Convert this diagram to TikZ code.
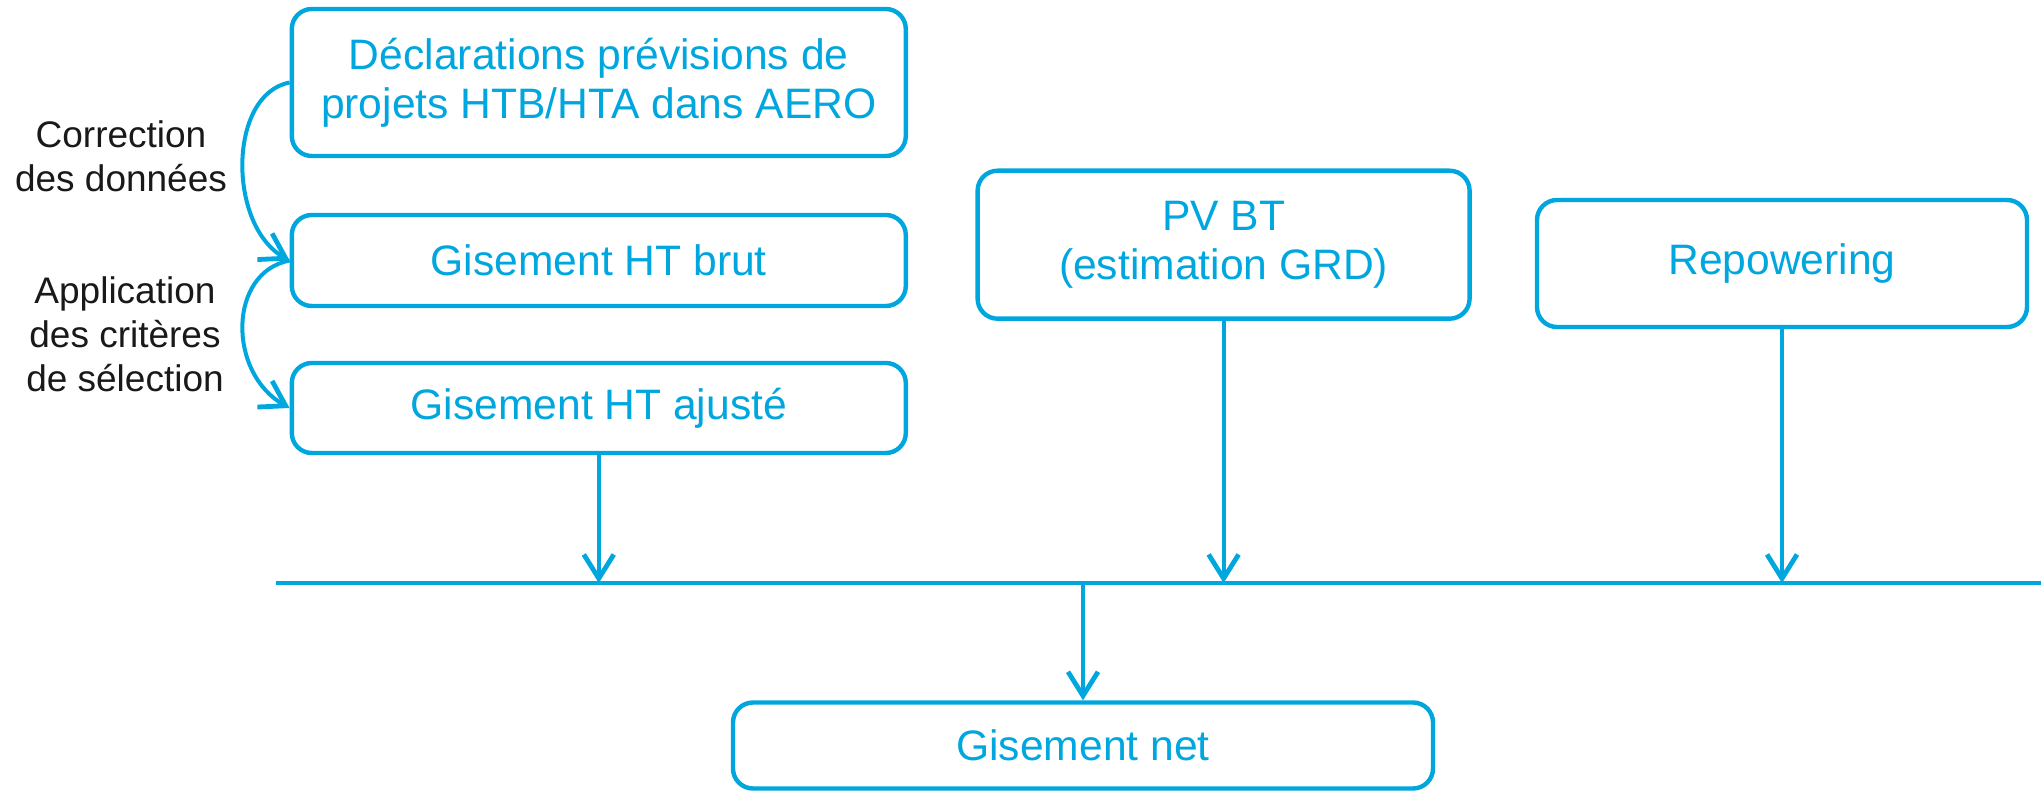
\documentclass[tikz,border=0pt]{standalone}
\usepackage{fontspec}
\setmainfont{Liberation Sans}
\usetikzlibrary{arrows.meta}
\definecolor{eblue}{RGB}{0,166,222}
\begin{document}
\begin{tikzpicture}[x=0.5pt,y=-0.5pt,
  box/.style={draw=eblue, line width=2.2pt, rounded corners=10pt, text=eblue, align=center, inner sep=0pt, font=\fontsize{21.3}{24.5}\selectfont},
  lab/.style={text=black!90, align=center, inner sep=0pt, font=\fontsize{18.5}{22}\selectfont},
  arr/.style={draw=eblue, line width=2pt, -{Straight Barb[length=12pt,width=15pt,line width=2.4pt]}},
  bus/.style={draw=eblue, line width=2.4pt},
]
\useasboundingbox (0,0) rectangle (2041,791);
\node[box, minimum width=307pt, minimum height=73.5pt] (b1) at (598.8,82.5) {Déclarations prévisions de\\projets HTB/HTA dans AERO};
\node[box, minimum width=307pt, minimum height=45.5pt] (b2) at (598.8,260.5) {Gisement HT brut};
\node[box, minimum width=307pt, minimum height=45pt] (b3) at (598.8,408) {Gisement HT ajusté};
\node[box, minimum width=246pt, minimum height=74pt] (pv) at (1223.6,244.7) {PV BT\\(estimation GRD)};
\node[box, minimum width=245pt, minimum height=63.5pt] (rp) at (1782,263.5) {Repowering};
\node[box, minimum width=350pt, minimum height=43pt] (net) at (1083,745.5) {Gisement net};
\node[lab] (l1) at (121,156) {Correction\\des données};
\node[lab] (l2) at (125,334) {Application\\des critères\\de sélection};
\coordinate (busL) at (276,583);
\coordinate (busR) at (2041,583);
\draw[bus] (busL) -- (busR);
\draw[arr] (b3.south) -- (b3.south |- busL);
\draw[arr] (pv.south) -- (pv.south |- busL);
\draw[arr] (rp.south) -- (rp.south |- busL);
\draw[arr] (net.north |- busL) -- (net.north);
\draw[arr] (b1.west) .. controls +(-62,12) and +(-62,-35) .. (b2.west);
\draw[arr] (b2.west) .. controls +(-62,12) and +(-62,-35) .. (b3.west);
\end{tikzpicture}
\end{document}
